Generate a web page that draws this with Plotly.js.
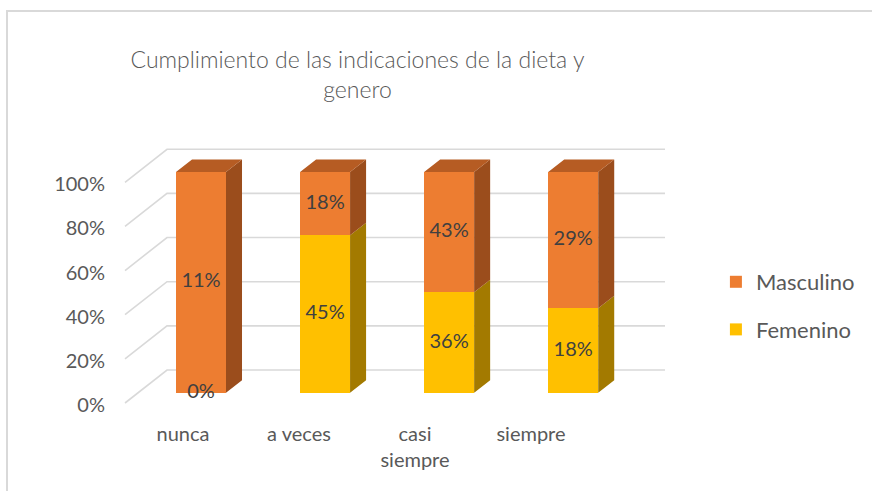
<!DOCTYPE html>
<html>
<head>
<meta charset="utf-8">
<script src="https://cdn.plot.ly/plotly-3.0.1.min.js"></script>
<style>html,body{margin:0;padding:0;background:#fff;}#chart{width:872px;height:491px;}</style>
</head>
<body>
<div id="chart"></div>
<script>
// ---- data ----
const categories = ['nunca', 'a veces', 'casi siempre', 'siempre'];
const tickLabels = ['nunca', 'a veces', 'casi<br>siempre', 'siempre'];
const femenino = [0, 45, 36, 18];
const masculino = [11, 18, 43, 29];
const yTicks = [0, 20, 40, 60, 80, 100];

// ---- styling / 3D geometry constants ----
const BAR_W = 0.403, DX = 0.129, DY = 5.66;
const WALL_XF = -0.6125, WALL_XB = -0.274, WALL_XE = 3.740, OFF_F = -4.6, OFF_B = 10.35;
const C = {
  orange: '#ED7D31', orangeSide: '#9B4D1C', orangeTop: '#B65C23',
  yellow: '#FFC000', yellowSide: '#A37A00', grid: '#D9D9D9', text: '#595959', label: '#404040'
};
const FONT = 'Lato, "Open Sans", sans-serif';

const xs = categories.map((_, i) => i);
const femPct = femenino.map((f, i) => { const t = f + masculino[i]; return t ? f / t * 100 : 0; });
const mascPct = femPct.map(p => 100 - p);

function sidePolys(y0s, y1s) {
  const x = [], y = [];
  xs.forEach((xi, i) => {
    const a = xi + BAR_W / 2, b = a + DX;
    x.push(a, b, b, a, a, null);
    y.push(y0s[i], y0s[i] + DY, y1s[i] + DY, y1s[i], y0s[i], null);
  });
  return {x, y};
}
const femSide = sidePolys(xs.map(() => 0), femPct);
const mascSide = sidePolys(femPct, xs.map(() => 100));
const topX = [], topY = [];
xs.forEach(xi => {
  const a = xi - BAR_W / 2, b = xi + BAR_W / 2;
  topX.push(a, a + DX, b + DX, b, a, null);
  topY.push(100, 100 + DY, 100 + DY, 100, 100, null);
});

const traces = [
  {type: 'bar', name: 'Femenino', x: xs, y: femenino, width: BAR_W, marker: {color: C.yellow, line: {width: 0}},
   legendgroup: 'f', legendrank: 2, hoverinfo: 'skip'},
  {type: 'bar', name: 'Masculino', x: xs, y: masculino, width: BAR_W, marker: {color: C.orange, line: {width: 0}},
   legendgroup: 'm', legendrank: 1, hoverinfo: 'skip'},
  {type: 'scatter', mode: 'lines', x: femSide.x, y: femSide.y, fill: 'toself', fillcolor: C.yellowSide,
   line: {width: 0, color: C.yellowSide}, showlegend: false, hoverinfo: 'skip'},
  {type: 'scatter', mode: 'lines', x: mascSide.x, y: mascSide.y, fill: 'toself', fillcolor: C.orangeSide,
   line: {width: 0, color: C.orangeSide}, showlegend: false, hoverinfo: 'skip'},
  {type: 'scatter', mode: 'lines', x: topX, y: topY, fill: 'toself', fillcolor: C.orangeTop,
   line: {width: 0, color: C.orangeTop}, showlegend: false, hoverinfo: 'skip'},
  {type: 'scatter', mode: 'text', x: xs, y: femPct.map(p => p / 2), text: femenino.map(v => v + '%'),
   textfont: {family: FONT, size: 20, color: C.label}, showlegend: false, hoverinfo: 'skip'},
  {type: 'scatter', mode: 'text', x: xs, y: femPct.map((p, i) => p + mascPct[i] / 2), text: masculino.map(v => v + '%'),
   textfont: {family: FONT, size: 20, color: C.label}, showlegend: false, hoverinfo: 'skip'},
  // invisible trace carrying the outer axes (tick labels on the front edge of the floor)
  {type: 'scatter', mode: 'markers', x: xs, y: xs.map(() => 0), xaxis: 'x2', yaxis: 'y2',
   marker: {opacity: 0}, showlegend: false, hoverinfo: 'skip'}
];

const gridShapes = yTicks.map(t => ({
  type: 'path', xref: 'x', yref: 'y', layer: 'below',
  path: `M ${WALL_XF},${t + OFF_F} L ${WALL_XB},${t + OFF_B} L ${WALL_XE},${t + OFF_B}`,
  line: {color: C.grid, width: 1.6}
}));

const layout = {
  width: 872, height: 491,
  margin: {l: 106, r: 202, t: 139, b: 81},
  paper_bgcolor: '#fff', plot_bgcolor: 'rgba(0,0,0,0)',
  font: {family: FONT, color: C.text, size: 20},
  barmode: 'stack', barnorm: 'percent',
  title: {text: 'Cumplimiento de las indicaciones de la dieta y<br>genero', xref: 'container', yref: 'container',
          x: 0.41, xanchor: 'center', y: 0.8605, yanchor: 'middle',
          font: {family: FONT, size: 23, color: C.text, weight: 300}},
  xaxis: {range: [-0.7657, 3.7801], showgrid: false, zeroline: false, showline: false, showticklabels: false, fixedrange: true},
  yaxis: {range: [-7.77, 115], showgrid: false, zeroline: false, showline: false, showticklabels: false, fixedrange: true},
  xaxis2: {overlaying: 'x', side: 'bottom', anchor: 'y', range: [-0.6638, 4.1983], tickmode: 'array',
           tickvals: xs, ticktext: tickLabels, showgrid: false, zeroline: false, showline: false, ticks: '',
           ticklabelstandoff: 10, tickfont: {family: FONT, size: 20, color: C.text}},
  yaxis2: {overlaying: 'y', side: 'left', anchor: 'x', range: [-2.27, 120.5], tickmode: 'array',
           tickvals: yTicks, ticktext: yTicks.map(t => t + '%'), showgrid: false, zeroline: false, showline: false, ticks: '',
           tickfont: {family: FONT, size: 20, color: C.text}},
  legend: {xref: 'container', yref: 'container', x: 0.821, xanchor: 'left', y: 0.3768, yanchor: 'middle',
           traceorder: 'grouped', tracegroupgap: 16, font: {family: FONT, size: 22, color: C.text}, bgcolor: 'rgba(0,0,0,0)'},
  shapes: gridShapes.concat([
    {type: 'rect', xref: 'paper', yref: 'paper', x0: -0.1755, x1: 1.5, y0: -0.5, y1: 1.4723,
     line: {color: C.grid, width: 2}, layer: 'below'}
  ]),
  showlegend: true
};

Plotly.newPlot('chart', traces, layout, {displayModeBar: false, staticPlot: true});
</script>
</body>
</html>
